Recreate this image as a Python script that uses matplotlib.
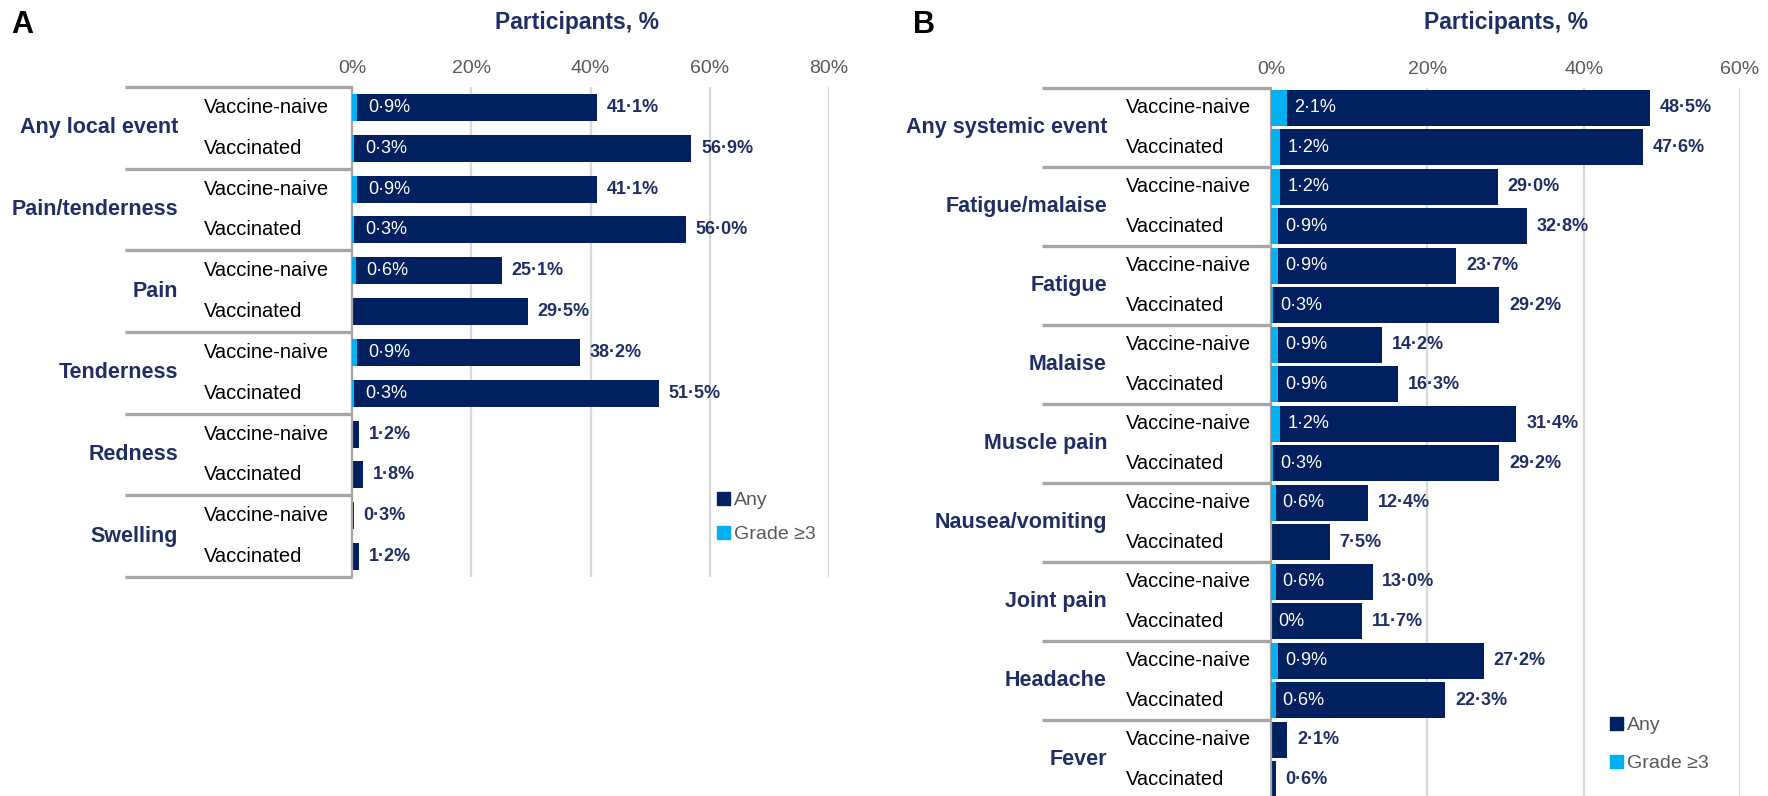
import matplotlib
matplotlib.use("Agg")
import matplotlib.pyplot as plt
import matplotlib.transforms as mtransforms
from matplotlib.patches import Rectangle

plt.rcParams['font.family'] = ['Liberation Sans', 'DejaVu Sans']

# ---------------- data ----------------
subgroups = ["Vaccine-naive", "Vaccinated"]

A_categories = ["Any local event", "Pain/tenderness", "Pain", "Tenderness", "Redness", "Swelling"]
A_any = [41.1, 56.9, 41.1, 56.0, 25.1, 29.5, 38.2, 51.5, 1.2, 1.8, 0.3, 1.2]
A_g3 = [0.9, 0.3, 0.9, 0.3, 0.6, None, 0.9, 0.3, None, None, None, None]
A_ticks = [0, 20, 40, 60, 80]

B_categories = ["Any systemic event", "Fatigue/malaise", "Fatigue", "Malaise", "Muscle pain",
                "Nausea/vomiting", "Joint pain", "Headache", "Fever"]
B_any = [48.5, 47.6, 29.0, 32.8, 23.7, 29.2, 14.2, 16.3, 31.4, 29.2,
         12.4, 7.5, 13.0, 11.7, 27.2, 22.3, 2.1, 0.6]
B_g3 = [2.1, 1.2, 1.2, 0.9, 0.9, 0.3, 0.9, 0.9, 1.2, 0.3,
        0.6, None, 0.6, 0.0, 0.9, 0.6, None, None]
B_ticks = [0, 20, 40, 60]

legend_labels = ["Any", "Grade \u22653"]

# ---------------- style ----------------
NAVY = "#002060"
TXT_NAVY = "#1F2F66"
LIGHT = "#00B0F0"
GRID = "#D9D9D9"
SEP = "#A6A6A6"
TICK = "#595959"

W, H = 1768, 796
fig = plt.figure(figsize=(W / 100, H / 100), dpi=100)


def fmt(v):
    if v == 0:
        return "0%"
    return f"{v:.1f}".replace(".", "\u00b7") + "%"


def px_axes(left, top, right, bottom):
    return fig.add_axes([left / W, 1 - bottom / H, (right - left) / W, (bottom - top) / H])


def draw_panel(ax, cats, vals, g3, ticks, bar_h, sub_x, cat_x, sep_x0, title_x,
               title_y, in_off, letter, letter_x):
    n = len(vals)
    ys = list(range(n))
    ax.barh(ys, vals, height=bar_h, color=NAVY, zorder=2)
    g3_vals = [0 if v is None else v for v in g3]
    ax.barh(ys, g3_vals, height=bar_h, color=LIGHT, zorder=3)
    ax.set_ylim(n - 0.5, -0.5)
    ax.set_xlim(ticks[0], ticks[-1])
    ax.set_xticks(ticks)
    ax.set_xticklabels([f"{t}%" for t in ticks])
    ax.xaxis.tick_top()
    ax.tick_params(axis="x", length=0, pad=7, labelsize=14, labelcolor=TICK)
    ax.set_yticks([])
    for s in ["top", "right", "bottom"]:
        ax.spines[s].set_visible(False)
    ax.spines["left"].set_color(SEP)
    ax.spines["left"].set_linewidth(1.6)
    ax.grid(axis="x", color=GRID, linewidth=1.6)
    ax.set_axisbelow(True)

    # value labels
    for y, v, g in zip(ys, vals, g3):
        ax.annotate(fmt(v), (v, y), xytext=(7, 0), textcoords="offset points",
                    ha="left", va="center", fontsize=13, fontweight="bold",
                    color=TXT_NAVY, zorder=4)
        if g is not None:
            ax.annotate(fmt(g), (g, y), xytext=(in_off, 0), textcoords="offset points",
                        ha="left", va="center", fontsize=13, color="white", zorder=4)

    trans = mtransforms.blended_transform_factory(ax.transAxes, ax.transData)
    # sub-group labels
    for y in ys:
        ax.text(sub_x, y, subgroups[y % 2], transform=trans, ha="left", va="center",
                fontsize=14.5, color="black")
    # category labels
    for i, c in enumerate(cats):
        ax.text(cat_x, 2 * i + 0.5, c, transform=trans, ha="right", va="center",
                fontsize=15.5, fontweight="bold", color=TXT_NAVY)
    # group separators
    for i in range(len(cats) + 1):
        yb = 2 * i - 0.5
        ax.plot([sep_x0, 0], [yb, yb], transform=trans, color=SEP, linewidth=2.4,
                clip_on=False, solid_capstyle="butt")
    ax.text(title_x, title_y, "Participants, %", transform=ax.transAxes, ha="center",
            va="center", fontsize=16.5, fontweight="bold", color=TXT_NAVY)
    fig.text(letter_x / W, 1 - 25 / H, letter, ha="left", va="center", fontsize=22,
             fontweight="bold", color="black")


# Panel A: axes from x 352..829, y 87..577
axA = px_axes(352, 87, 829, 577)
draw_panel(axA, A_categories, A_any, A_g3, A_ticks, bar_h=0.66,
           sub_x=(204 - 352) / 477, cat_x=(178 - 352) / 477, sep_x0=(125 - 352) / 477,
           title_x=0.472, title_y=1 + 64 / 490, in_off=8, letter="A", letter_x=11)

# Panel B: axes from x 1271..1740, y 88..799
axB = px_axes(1271, 88, 1740, 799)
draw_panel(axB, B_categories, B_any, B_g3, B_ticks, bar_h=0.9,
           sub_x=(1126 - 1271) / 469, cat_x=(1107 - 1271) / 469, sep_x0=(1042 - 1271) / 469,
           title_x=0.5, title_y=1 + 65 / 711, in_off=5, letter="B", letter_x=913)

# legends
handles = [Rectangle((0, 0), 1, 1, color=NAVY), Rectangle((0, 0), 1, 1, color=LIGHT)]
for ax, (lx, ly), spacing in [(axA, (717, 492), 0.85), (axB, (1610, 717), 1.06)]:
    leg = ax.legend(handles, legend_labels, loc="upper left",
                    bbox_to_anchor=(lx / W, 1 - ly / H), bbox_transform=fig.transFigure,
                    frameon=False, fontsize=14, handlelength=0.65, handleheight=0.65,
                    handletextpad=0.2, labelspacing=spacing, borderpad=0, borderaxespad=0)
    for t in leg.get_texts():
        t.set_color(TICK)

fig.savefig("out.png", dpi=100)
